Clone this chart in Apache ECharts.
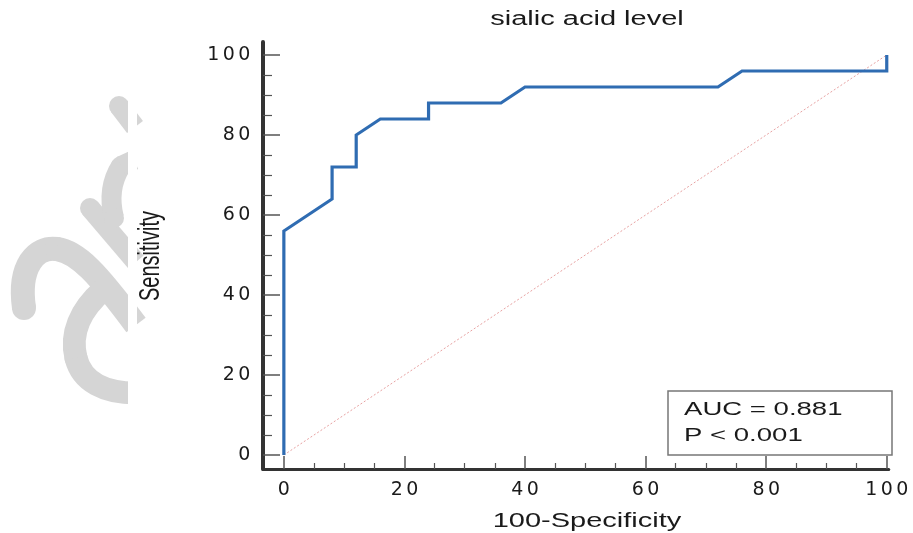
<!DOCTYPE html>
<html>
<head>
<meta charset="utf-8">
<script src="https://cdn.jsdelivr.net/npm/echarts@6.0.0/dist/echarts.min.js"></script>
<style>
  html, body { margin: 0; padding: 0; background: #ffffff; }
  #chart { width: 913px; height: 533px; }
</style>
</head>
<body>
<div id="chart"></div>
<script>
// ROC curve: 100-Specificity (x) vs Sensitivity (y)
const rocX = [0, 0, 8, 8, 12, 12, 16, 24, 24, 36, 40, 72, 76, 100, 100];
const rocY = [0, 56, 64, 72, 72, 80, 84, 84, 88, 88, 92, 92, 96, 96, 100];
// reference (chance) diagonal
const refX = [0, 100];
const refY = [0, 100];
// tick values
const majorTicks = [0, 20, 40, 60, 80, 100];
const minorTicks = [5, 10, 15, 25, 30, 35, 45, 50, 55, 65, 70, 75, 85, 90, 95];
// texts
const chartTitle = 'sialic acid level';
const xName = '100-Specificity';
const yName = 'Sensitivity';
const statLines = ['AUC = 0.881', 'P < 0.001'];

const rocData = rocX.map((x, i) => [x, rocY[i]]);
const refData = refX.map((x, i) => [x, refY[i]]);

// axis extents (axes are drawn slightly detached from the 0..100 data frame)
const xExtent = [-3.46, 100.33];
const yExtent = [-3.5, 103.25];

const STRETCH = 1.45;
const textFont = '20px "Liberation Sans", Arial, sans-serif';
const textColor = '#1a1a1a';
const tickColor = '#555555';

function spacedDigits(v) {
  return String(Math.round(v)).split('').map(c => '{d|' + c + '}').join('');
}
const digitRich = {
  d: { width: 15.5, align: 'center', fontFamily: 'DejaVu Sans', fontSize: 19, color: textColor, lineHeight: 19 }
};

const chart = echarts.init(document.getElementById('chart'));

const wm = '#d5d5d5';
function wmLine(shape, w) {
  return { type: 'line', z: 1, shape: shape, style: { stroke: wm, lineWidth: w, lineCap: 'butt', fill: null } };
}
function wmCurve(shape, w) {
  return { type: 'bezierCurve', z: 1, shape: shape, style: { stroke: wm, lineWidth: w, lineCap: 'butt', fill: null } };
}
function wmDot(cx, cy, r) {
  return { type: 'circle', z: 1, shape: { cx: cx, cy: cy, r: r }, style: { fill: wm } };
}

chart.setOption({
  backgroundColor: '#ffffff',
  animation: false,
  grid: [{ left: 263, right: 20, top: 42, bottom: 64 }],
  xAxis: [
    {
      type: 'value', position: 'bottom', min: xExtent[0], max: xExtent[1],
      axisLine: { show: true, onZero: false, lineStyle: { color: '#333333', width: 3 } },
      axisTick: { show: true, inside: true, length: 13, customValues: majorTicks, lineStyle: { color: tickColor, width: 1.5 } },
      axisLabel: { margin: 12, customValues: majorTicks, formatter: spacedDigits, rich: digitRich },
      splitLine: { show: false }
    },
    {
      type: 'value', position: 'bottom', min: xExtent[0], max: xExtent[1],
      axisLine: { show: false, onZero: false },
      axisTick: { show: true, inside: true, length: 6, customValues: minorTicks, lineStyle: { color: tickColor, width: 1.2 } },
      axisLabel: { show: false },
      splitLine: { show: false }
    }
  ],
  yAxis: [
    {
      type: 'value', position: 'left', min: yExtent[0], max: yExtent[1],
      axisLine: { show: true, onZero: false, lineStyle: { color: '#333333', width: 4 } },
      axisTick: { show: true, inside: true, length: 17, customValues: majorTicks, lineStyle: { color: tickColor, width: 1.5 } },
      axisLabel: { margin: 11, customValues: majorTicks, formatter: spacedDigits, rich: digitRich },
      splitLine: { show: false }
    },
    {
      type: 'value', position: 'left', min: yExtent[0], max: yExtent[1],
      axisLine: { show: false, onZero: false },
      axisTick: { show: true, inside: true, length: 9, customValues: minorTicks, lineStyle: { color: tickColor, width: 1.2 } },
      axisLabel: { show: false },
      splitLine: { show: false }
    }
  ],
  series: [
    {
      name: 'Reference', type: 'line', xAxisIndex: 0, yAxisIndex: 0,
      data: refData, showSymbol: false, clip: false, z: 1,
      lineStyle: { color: '#e8a2a2', width: 1, type: [2, 2] }
    },
    {
      name: 'ROC', type: 'line', xAxisIndex: 0, yAxisIndex: 0,
      data: rocData, showSymbol: false, clip: false, z: 3,
      lineStyle: { color: '#2f6cb2', width: 3.2, join: 'miter' }
    }
  ],
  graphic: [
    // watermark (partial logo on the left edge)
    wmDot(119, 106, 10),
    wmLine({ x1: 119, y1: 106, x2: 135, y2: 127 }, 20),
    wmDot(90, 208, 10),
    wmLine({ x1: 90, y1: 208, x2: 136, y2: 262 }, 20),
    wmDot(121, 166, 10),
    wmCurve({ x1: 121, y1: 166, cpx1: 112, cpy1: 180, cpx2: 109, cpy2: 198, x2: 114, y2: 218 }, 20),
    wmDot(114, 218, 10),
    wmLine({ x1: 121, y1: 166, x2: 134, y2: 160 }, 20),
    wmDot(24, 308, 12),
    wmCurve({ x1: 24, y1: 308, cpx1: 18, cpy1: 266, cpx2: 36, cpy2: 246, x2: 57, y2: 249 }, 24),
    wmDot(57, 249, 12),
    wmCurve({ x1: 57, y1: 249, cpx1: 78, cpy1: 252, cpx2: 98, cpy2: 274, x2: 136, y2: 325 }, 24),
    wmCurve({ x1: 103, y1: 290, cpx1: 80, cpy1: 310, cpx2: 70, cpy2: 334, x2: 76, y2: 358 }, 23),
    wmDot(76, 358, 11.5),
    wmCurve({ x1: 76, y1: 358, cpx1: 82, cpy1: 382, cpx2: 105, cpy2: 393, x2: 136, y2: 393 }, 23),
    { type: 'rect', z: 2, shape: { x: 128, y: 80, width: 9, height: 340 }, style: { fill: '#ffffff' } },
    // title
    { type: 'text', z: 5, x: 587, y: 19, scaleX: STRETCH,
      style: { text: chartTitle, font: textFont, fill: textColor, align: 'center', verticalAlign: 'middle' } },
    // axis names
    { type: 'text', z: 5, x: 587, y: 521, scaleX: STRETCH,
      style: { text: xName, font: textFont, fill: textColor, align: 'center', verticalAlign: 'middle' } },
    { type: 'text', z: 5, x: 151, y: 256, rotation: Math.PI / 2, scaleY: STRETCH,
      style: { text: yName, font: textFont, fill: textColor, align: 'center', verticalAlign: 'middle' } },
    // statistics box
    { type: 'rect', z: 4, shape: { x: 668, y: 391, width: 224, height: 64 },
      style: { fill: '#ffffff', stroke: '#777777', lineWidth: 1.5 } },
    { type: 'text', z: 5, x: 684, y: 410, scaleX: STRETCH,
      style: { text: statLines[0], font: '19px "Liberation Sans", Arial, sans-serif', fill: textColor, align: 'left', verticalAlign: 'middle' } },
    { type: 'text', z: 5, x: 684, y: 436, scaleX: STRETCH,
      style: { text: statLines[1], font: '19px "Liberation Sans", Arial, sans-serif', fill: textColor, align: 'left', verticalAlign: 'middle' } }
  ]
});
</script>
</body>
</html>
